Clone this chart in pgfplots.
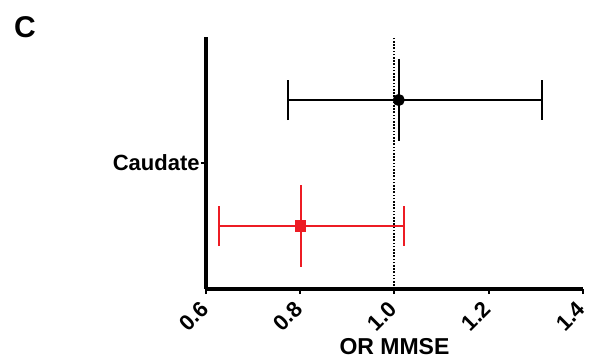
\documentclass[border=0pt]{standalone}
\usepackage{fontspec}
\setmainfont{Liberation Sans}
\usepackage{pgfplots}
\pgfplotsset{compat=1.18}
\definecolor{myred}{RGB}{237,28,36}
\begin{document}
\begin{tikzpicture}[font=\bfseries]
\useasboundingbox (-103pt,-35.5pt) rectangle (191.5pt,144.5pt);
\begin{axis}[
  at={(0,0)}, anchor=south west,
  scale only axis,
  width=188.5pt, height=126pt,
  xmin=0.6, xmax=1.4, ymin=-1, ymax=1,
  axis x line*=bottom, axis y line*=left,
  axis line style={line width=1.8pt,-},
  xtick={0.6,0.8,1.0,1.2,1.4},
  xticklabels={0.6,0.8,1.0,1.2,1.4},
  ytick={0}, yticklabels={Caudate},
  tick align=outside,
  major tick length=2.5pt,
  tick style={line width=1pt, black},
  xticklabel style={rotate=45, anchor=east, font=\bfseries\fontsize{11}{12}\selectfont, inner sep=1pt, xshift=-3.3pt, yshift=-3.3pt},
  yticklabel style={font=\bfseries\fontsize{11}{12}\selectfont, inner sep=0.5pt},
  xlabel={OR MMSE},
  xlabel style={font=\bfseries\fontsize{11.5}{12.5}\selectfont, yshift=2pt},
  clip=false,
]
% reference line
\addplot[black, dash pattern=on 0.8pt off 0.8pt, line width=1pt] coordinates {(1.0,-1) (1.0,1)};
% Black estimate
\addplot[black, line width=1pt, mark=none] coordinates {(1.009,0.175) (1.009,0.825)};
\addplot[black, line width=1pt, mark=*, mark size=2.5pt,
  error bars/.cd, x dir=both, x explicit, error mark=|,
  error mark options={mark size=10pt, line width=1pt, black},
  error bar style={line width=1pt, black}]
  coordinates {(1.009,0.5) += (0.305,0) -= (0.234,0)};
% Red estimate
\addplot[myred, line width=1pt, mark=none] coordinates {(0.8006,-0.175) (0.8006,-0.825)};
\addplot[myred, line width=1pt, mark=square*, mark size=2.3pt,
  error bars/.cd, x dir=both, x explicit, error mark=|,
  error mark options={mark size=10pt, line width=1pt, myred},
  error bar style={line width=1pt, myred}]
  coordinates {(0.8006,-0.5) += (0.2204,0) -= (0.1726,0)};
\end{axis}
\node[font=\bfseries\fontsize{15}{16}\selectfont] at (-90.5pt,131pt) {C};
\end{tikzpicture}
\end{document}
